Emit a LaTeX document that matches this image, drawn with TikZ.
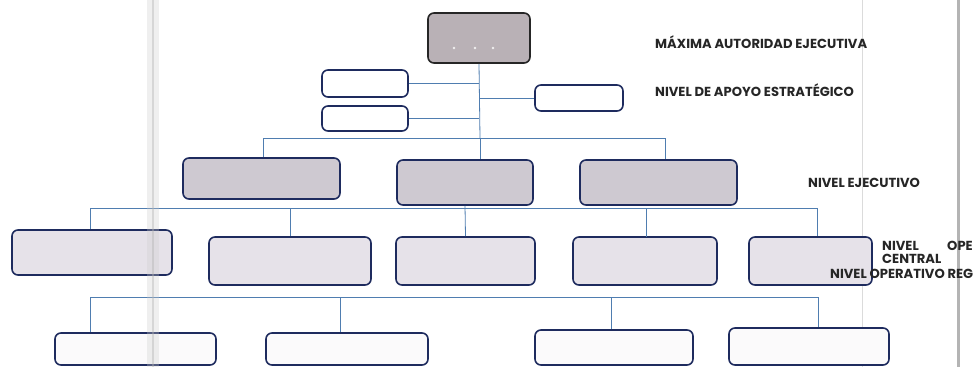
\documentclass[tikz,border=0pt]{standalone}
\usepackage{fontspec}
\setmainfont{Poppins}
\begin{document}
\begin{tikzpicture}[x=1pt,y=-1pt,
  box/.style={draw=navy, line width=1.6pt, rounded corners=6pt, inner sep=0pt},
  conn/.style={draw=linkblue, line width=0.8pt},
  lbl/.style={anchor=west, inner sep=0pt, font=\fontsize{13.1}{14}\selectfont\bfseries, text=black!85}]
\definecolor{navy}{HTML}{1E2B5E}
\definecolor{linkblue}{HTML}{4F7DB0}
\definecolor{topfill}{HTML}{B9B1B6}
\definecolor{exfill}{HTML}{CEC9D1}
\definecolor{cfill}{HTML}{E6E2E9}
\definecolor{rfill}{HTML}{FBFAFB}
\definecolor{scan}{HTML}{B4B4B4}
\useasboundingbox[fill=white] (0,0) rectangle (979,367);
% scan artefacts behind
\fill[black!14] (861.5,0) rectangle (862.5,367);
\fill[scan] (956.5,0) rectangle (959.5,367);
% boxes
\node[box, draw=black!85, fill=topfill, minimum width=102pt, minimum height=50pt] (top) at (479,38) {};
\node[box, fill=white, minimum width=86pt, minimum height=27pt] (a1) at (365,83.5) {};
\node[box, fill=white, minimum width=86pt, minimum height=25pt] (a2) at (365,118.5) {};
\node[box, fill=white, minimum width=88pt, minimum height=26pt] (a3) at (579,98) {};
\node[box, fill=exfill, minimum width=157pt, minimum height=41pt] (e1) at (261.5,178.5) {};
\node[box, fill=exfill, minimum width=136pt, minimum height=45pt] (e2) at (465,182.5) {};
\node[box, fill=exfill, minimum width=157pt, minimum height=45pt] (e3) at (658.5,182.5) {};
\node[box, fill=cfill, minimum width=160pt, minimum height=45pt] (c1) at (92,252.5) {};
\node[box, fill=cfill, minimum width=162pt, minimum height=48pt] (c2) at (290,261) {};
\node[box, fill=cfill, minimum width=139pt, minimum height=48pt] (c3) at (465.5,261) {};
\node[box, fill=cfill, minimum width=144pt, minimum height=48pt] (c4) at (645,261) {};
\node[box, fill=cfill, minimum width=123pt, minimum height=48pt] (c5) at (810.5,261) {};
\node[box, fill=rfill, minimum width=161pt, minimum height=32pt] (r1) at (135.5,349) {};
\node[box, fill=rfill, minimum width=162pt, minimum height=32pt] (r2) at (347,349) {};
\node[box, fill=rfill, minimum width=158pt, minimum height=35pt] (r3) at (614,347.5) {};
\node[box, fill=rfill, minimum width=160pt, minimum height=37pt] (r4) at (809,346.5) {};
% dots in top box
\foreach \x in {454,475,493} \fill[white, opacity=0.8] (\x,48) circle (1.3pt);
% coordinates for bus lines
\coordinate (b1) at (480,138);
\coordinate (b1l) at (263,138);
\coordinate (b1r) at (665,138);
\coordinate (b2l) at (90,208);
\coordinate (b2r) at (817,208);
\coordinate (b3l) at (90,297);
\coordinate (b3r) at (818,297);
\coordinate (v3) at (340,297);
\coordinate (v4) at (611,297);
% connectors
\draw[conn] (top.south) -- (b1);
\draw[conn] (a1.east) -- (a1.east -| top.south);
\draw[conn] (a2.east) -- (a2.east -| top.south);
\draw[conn] (a3.west) -- (a3.west -| top.south);
\draw[conn] (b1l) -- (b1r);
\draw[conn] (b1l) -- (b1l |- e1.north);
\draw[conn] (b1) -- (b1 |- e2.north);
\draw[conn] (b1r) -- (b1r |- e3.north);
\draw[conn] (b2l) -- (b2r);
\draw[conn] (b2l) -- (b2l |- c1.north);
\draw[conn] (c2.north) -- (c2.north |- b2l);
\draw[conn] (e2.south) -- (c3.north);
\draw[conn] (646,208) -- (646,237);
\draw[conn] (b2r) -- (b2r |- c5.north);
\draw[conn] (b3l) -- (b3r);
\draw[conn] (b3l) -- (b3l |- r1.north);
\draw[conn] (v3) -- (v3 |- r2.north);
\draw[conn] (v4) -- (v4 |- r3.north);
\draw[conn] (b3r) -- (b3r |- r4.north);
% labels
\node[lbl] (t1) at (655,42) {MÁXIMA AUTORIDAD EJECUTIVA};
\node[lbl] (t2) at (655,90) {NIVEL DE APOYO ESTRATÉGICO};
\node[lbl] (t3) at (808,183) {NIVEL EJECUTIVO};
\node[lbl] (t4) at (882,246) {NIVEL};
\node[lbl] (t5) at (947,246) {OPE};
\node[lbl] (t6) at (882,259) {CENTRAL};
\node[lbl] (t7) at (830,273.5) {NIVEL OPERATIVO REG};
% scan band on the left
\fill[black!20, opacity=0.3] (147,0) rectangle (159,367);
\draw[black!30, opacity=0.4, line width=1.2pt] (153,0) -- (153,367);
\end{tikzpicture}
\end{document}
